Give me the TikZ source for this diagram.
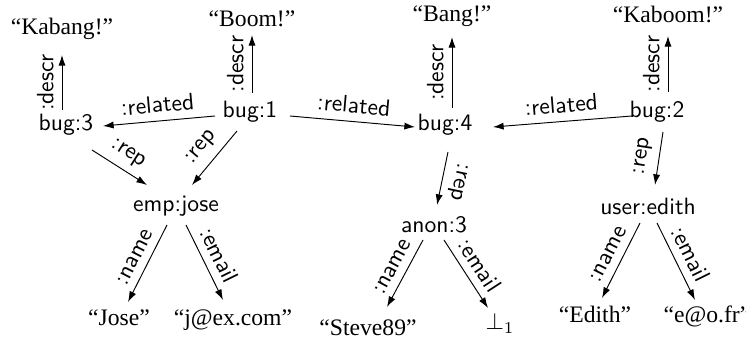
\documentclass[tikz,border=0pt]{standalone}
\usepackage{fontspec}
\newfontfamily\valfont{Liberation Serif}
\usetikzlibrary{arrows.meta}
\begin{document}
\begin{tikzpicture}[x=0.4233pt,y=-0.4233pt,
  res/.style={font=\sffamily, inner sep=0pt, anchor=base},
  val/.style={font=\valfont, inner sep=0pt, anchor=base},
  arr/.style={-{Latex[length=4.5pt,width=3pt]}, line width=0.4pt},
  lab/.style={font=\sffamily, midway, above, sloped}]
\useasboundingbox (0,0) rectangle (746,345);
% resources
\node[res] (bug3) at (66,131) {bug:3};
\node[res] (bug1) at (250,118) {bug:1};
\node[res] (bug4) at (445,131) {bug:4};
\node[res] (bug2) at (657,118) {bug:2};
\node[res] (emp) at (176,212) {emp:jose};
\node[res] (anon) at (434,233) {anon:3};
\node[res] (edith) at (648,215) {user:edith};
% values
\node[val] (kabang) at (62,35) {“Kabang!”};
\node[val] (boom) at (252,27) {“Boom!”};
\node[val] (bang) at (452,22) {“Bang!”};
\node[val] (kaboom) at (668,23) {“Kaboom!”};
\node[val] (jose) at (119,326) {“Jose”};
\node[val] (jmail) at (233,326) {“j@ex.com”};
\node[val] (steve) at (368,336) {“Steve89”};
\node[val] (bot) at (500,330) {$\bot_1$};
\node[val] (edname) at (595,323) {“Edith”};
\node[val] (edmail) at (707,323) {“e@o.fr”};
% related
\draw[arr] ([shift={(-35,-2)}]bug1.base) -- node[lab]{:related} ([shift={(37,-5)}]bug3.base);
\draw[arr] ([shift={(40,-2)}]bug1.base) -- node[lab]{:related} ([shift={(-30,-4)}]bug4.base);
\draw[arr] ([shift={(-25,-2)}]bug2.base) -- node[lab]{:related} ([shift={(48,-4)}]bug4.base);
% descr
\draw[arr] ([shift={(-4,-21)}]bug3.base) -- node[lab]{:descr} ([shift={(0,20)}]kabang.base);
\draw[arr] ([shift={(2,-25)}]bug1.base) -- node[lab]{:descr} ([shift={(0,8)}]boom.base);
\draw[arr] ([shift={(7,-23)}]bug4.base) -- node[lab]{:descr} ([shift={(0,15)}]bang.base);
\draw[arr] ([shift={(11,-26)}]bug2.base) -- node[lab]{:descr} ([shift={(0,13)}]kaboom.base);
% rep
\draw[arr] ([shift={(26,19)}]bug3.base) -- node[lab]{:rep} ([shift={(-29,-27)}]emp.base);
\draw[arr] ([shift={(-13,13)}]bug1.base) -- node[lab]{:rep} ([shift={(16,-27)}]emp.base);
\draw[arr] ([shift={(3,21)}]bug4.base) -- node[lab, allow upside down]{:rep} ([shift={(3,-28)}]anon.base);
\draw[arr] ([shift={(6,14)}]bug2.base) -- node[lab]{:rep} ([shift={(7,-30)}]edith.base);
% name / email
\draw[arr] ([shift={(-9,13)}]emp.base) -- node[lab]{:name} ([shift={(9,-24)}]jose.base);
\draw[arr] ([shift={(10,13)}]emp.base) -- node[lab]{:email} ([shift={(-10,-26)}]jmail.base);
\draw[arr] ([shift={(-11,7)}]anon.base) -- node[lab]{:name} ([shift={(19,-29)}]steve.base);
\draw[arr] ([shift={(10,7)}]anon.base) -- node[lab]{:email} ([shift={(-12,-22)}]bot.base);
\draw[arr] ([shift={(-8,8)}]edith.base) -- node[lab]{:name} ([shift={(7,-25)}]edname.base);
\draw[arr] ([shift={(9,8)}]edith.base) -- node[lab]{:email} ([shift={(-12,-23)}]edmail.base);
\end{tikzpicture}
\end{document}
